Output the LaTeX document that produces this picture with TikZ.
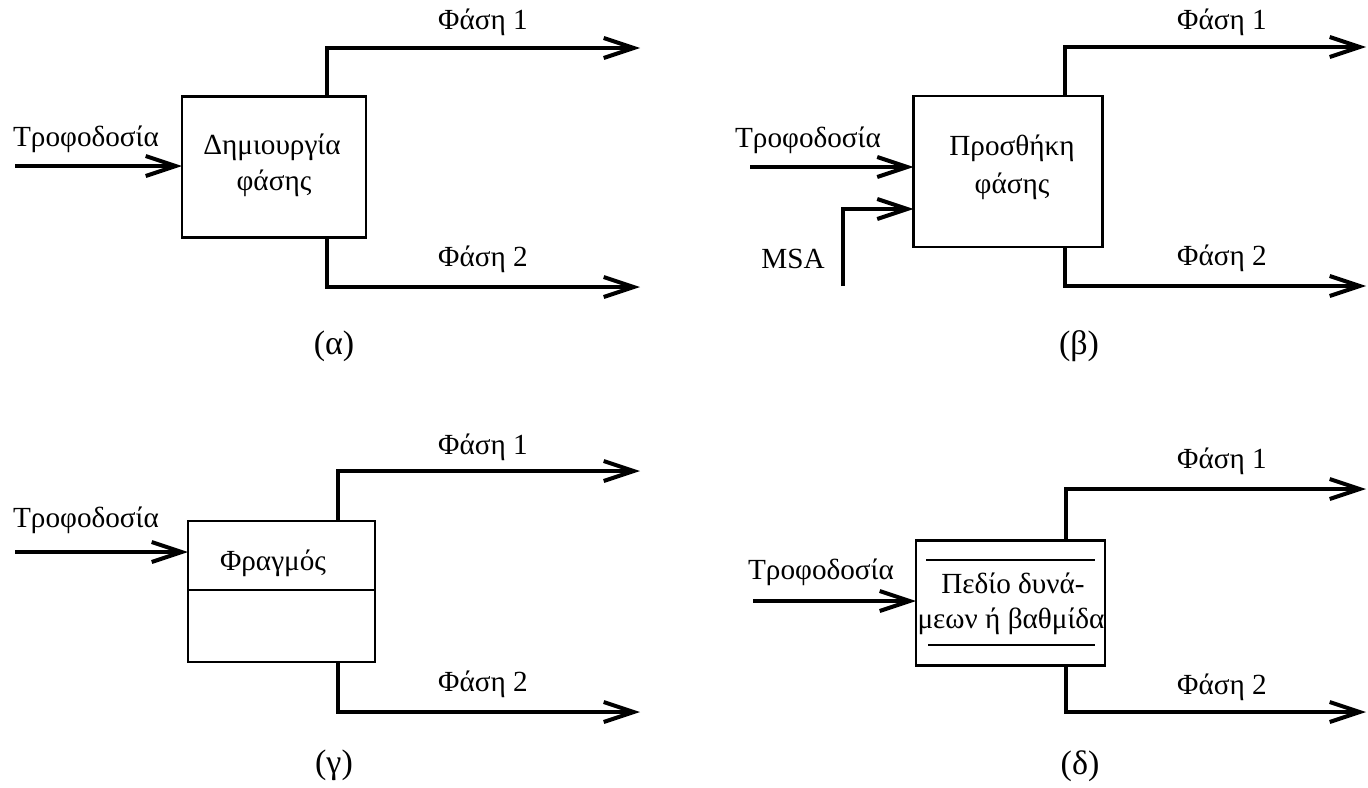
\documentclass[tikz,border=0pt]{standalone}
\usepackage{fontspec}
\setmainfont{Liberation Serif}
\usetikzlibrary{arrows.meta}
\begin{document}
\begin{tikzpicture}[x=0.5pt,y=-0.5pt,
  box/.style={draw, line width=1.3pt, inner sep=0pt, outer sep=0pt},
  flow/.style={line width=2pt, -{Straight Barb[length=15pt,width=10pt,line width=2pt]}},
  thinline/.style={line width=1.3pt},
  lbl/.style={font=\fontsize{14.6}{17}\selectfont, inner sep=0pt},
  captxt/.style={font=\fontsize{17}{20}\selectfont, inner sep=0pt}]
\useasboundingbox (0,0) rectangle (1368,787);

% ---------- (alpha)
\node[box, minimum width=92pt, minimum height=70.5pt] (abox) at (274,167) {};
\node[lbl] (atxt1) at (272,147) {Δημιουργία};
\node[lbl] (atxt2) at (274,183) {φάσης};
\coordinate (ain) at (15,166);
\node[lbl] (afeed) at (86,139) {Τροφοδοσία};
\draw[flow] (ain) -- (ain -| abox.west);
\coordinate (ax) at (327,0);
\coordinate (a1) at (640,48);
\coordinate (a2) at (640,287);
\draw[flow] (abox.north -| ax) |- (a1);
\draw[flow] (abox.south -| ax) |- (a2);
\node[lbl] (ap1) at (483,22) {Φάση 1};
\node[lbl] (ap2) at (483,259) {Φάση 2};
\node[captxt] (acap) at (334,346) {(α)};

% ---------- (beta)
\node[box, minimum width=94.5pt, minimum height=75.5pt] (bbox) at (1008,171.5) {};
\node[lbl] (btxt1) at (1012,148) {Προσθήκη};
\node[lbl] (btxt2) at (1012,186) {φάσης};
\coordinate (bin) at (750,167);
\node[lbl] (bfeed) at (808,140) {Τροφοδοσία};
\draw[flow] (bin) -- (bin -| bbox.west);
\coordinate (bmsa) at (843,286);
\coordinate (bmsay) at (0,209);
\draw[flow] (bmsa) |- (bmsay -| bbox.west);
\node[lbl] (bmsal) at (793,259) {MSA};
\coordinate (bx) at (1065,0);
\coordinate (b1) at (1366,47);
\coordinate (b2) at (1366,286);
\draw[flow] (bbox.north -| bx) |- (b1);
\draw[flow] (bbox.south -| bx) |- (b2);
\node[lbl] (bp1) at (1222,22) {Φάση 1};
\node[lbl] (bp2) at (1222,258) {Φάση 2};
\node[captxt] (bcap) at (1079,346) {(β)};

% ---------- (gamma)
\node[box, minimum width=93.5pt, minimum height=70.5pt] (gbox) at (281.5,591.5) {};
\coordinate (gdiv) at (0,590);
\draw[thinline] (gdiv -| gbox.west) -- (gdiv -| gbox.east);
\node[lbl] (gtxt) at (273,563) {Φραγμός};
\coordinate (gin) at (15,552);
\node[lbl] (gfeed) at (86,520) {Τροφοδοσία};
\draw[flow] (gin) -- (gin -| gbox.west);
\coordinate (gx) at (338,0);
\coordinate (g1) at (640,471);
\coordinate (g2) at (640,712);
\draw[flow] (gbox.north -| gx) |- (g1);
\draw[flow] (gbox.south -| gx) |- (g2);
\node[lbl] (gp1) at (483,447) {Φάση 1};
\node[lbl] (gp2) at (483,684) {Φάση 2};
\node[captxt] (gcap) at (334,765) {(γ)};

% ---------- (delta)
\node[box, minimum width=94.5pt, minimum height=62.5pt] (dbox) at (1010.5,603) {};
\coordinate (dl1a) at (926,560);
\coordinate (dl1b) at (1095,560);
\coordinate (dl2a) at (928,645);
\coordinate (dl2b) at (1095,645);
\draw[thinline] (dl1a) -- (dl1b);
\draw[thinline] (dl2a) -- (dl2b);
\node[lbl] (dtxt1) at (1013,583) {Πεδίο δυνά-};
\node[lbl] (dtxt2) at (1011,621) {μεων ή βαθμίδα};
\coordinate (din) at (753,601);
\node[lbl] (dfeed) at (821,572) {Τροφοδοσία};
\draw[flow] (din) -- (din -| dbox.west);
\coordinate (dx) at (1066,0);
\coordinate (d1) at (1366,489);
\coordinate (d2) at (1366,712);
\draw[flow] (dbox.north -| dx) |- (d1);
\draw[flow] (dbox.south -| dx) |- (d2);
\node[lbl] (dp1) at (1222,461) {Φάση 1};
\node[lbl] (dp2) at (1222,687) {Φάση 2};
\node[captxt] (dcap) at (1080,766) {(δ)};
\end{tikzpicture}
\end{document}
